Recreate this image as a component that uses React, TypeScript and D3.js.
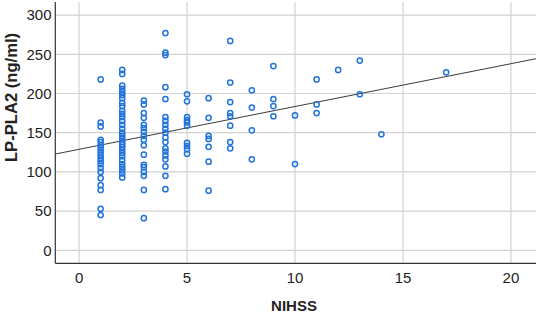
import React from "react";
import * as d3 from "d3";

const W = 536;
const H = 312;

// NIHSS score per column and LP-PLA2 values (ng/ml)
const nihss1 = [218, 163, 158, 141, 138, 134, 130, 126, 122, 118, 114, 110, 105, 100, 92, 83, 77, 53, 45];
const nihss2 = [230, 225, 210, 206, 202, 198, 194, 188, 184, 178, 174, 170, 165, 160, 155, 150, 146, 142, 138, 135, 132, 128, 124, 120, 115, 110, 106, 102, 98, 93];
const nihss3 = [191, 186, 175, 169, 160, 156, 151, 146, 141, 134, 122, 109, 106, 100, 95, 77, 41];
const nihss4 = [277, 252, 249, 208, 193, 170, 165, 160, 155, 150, 144, 138, 130, 126, 121, 116, 107, 95, 78];
const nihss5 = [199, 190, 170, 166, 163, 159, 137, 133, 129, 123];
const nihss6 = [194, 169, 146, 142, 132, 113, 76];
const nihss7 = [267, 214, 189, 175, 171, 159, 138, 130];
const nihss8 = [204, 182, 153, 116];
const nihss9 = [235, 193, 184, 171];
const nihss10 = [172, 110];
const nihss11 = [218, 186, 175];
const nihss12 = [230];
const nihss13 = [242, 199];
const nihss14 = [148];
const nihss17 = [227];

const groups: [number, number[]][] = [
  [1, nihss1], [2, nihss2], [3, nihss3], [4, nihss4], [5, nihss5], [6, nihss6],
  [7, nihss7], [8, nihss8], [9, nihss9], [10, nihss10], [11, nihss11], [12, nihss12],
  [13, nihss13], [14, nihss14], [17, nihss17],
];

const xTicks = [0, 5, 10, 15, 20];
const yTicks = [0, 50, 100, 150, 200, 250, 300];

// fitted line
const fitIntercept = 128.8;
const fitSlope = 5.46;

const xDomain: [number, number] = [-1.1, 21.16];
const yDomain: [number, number] = [-16.6, 316.7];

export default function App() {
  const left = 55.3, right = 536, top = 2, bottom = 263.3;
  const x = d3.scaleLinear().domain(xDomain).range([left, right]);
  const y = d3.scaleLinear().domain(yDomain).range([bottom, top]);

  const points = groups.flatMap(([n, vals]) => vals.map((v) => ({ n, v })));
  const line = d3.line<number>().x((d) => x(d)).y((d) => y(fitIntercept + fitSlope * d));

  const font = "Arial, 'Liberation Sans', sans-serif";
  const blue = "#2274dc";

  return (
    <svg width={W} height={H} style={{ position: "absolute", left: 0, top: 0, background: "#fff" }}>
      <rect x={0} y={0} width={W} height={H} fill="#fff" />
      {yTicks.map((t) => (
        <line key={"gy" + t} x1={left} x2={right} y1={y(t)} y2={y(t)} stroke="#d2d2d2" strokeWidth={1.2} />
      ))}
      {xTicks.map((t) => (
        <line key={"gx" + t} x1={x(t)} x2={x(t)} y1={top} y2={bottom} stroke="#d2d2d2" strokeWidth={1.2} />
      ))}
      <path d={line(xDomain as number[]) || ""} fill="none" stroke="#3a3a3a" strokeWidth={1} />
      {points.map((p, i) => (
        <circle key={i} cx={x(p.n)} cy={y(p.v)} r={2.6} fill="none" stroke={blue} strokeWidth={1.5} />
      ))}
      <line x1={left} x2={left} y1={top} y2={bottom} stroke="#333" strokeWidth={1.2} />
      <line x1={left} x2={right} y1={bottom} y2={bottom} stroke="#333" strokeWidth={1.2} />
      {yTicks.map((t) => (
        <text key={"ty" + t} x={51.5} y={y(t)} dy="0.36em" textAnchor="end" fontFamily={font} fontSize={15} fill="#222">
          {t}
        </text>
      ))}
      {xTicks.map((t) => (
        <text key={"tx" + t} x={x(t)} y={282.7} textAnchor="middle" fontFamily={font} fontSize={15} fill="#222">
          {t}
        </text>
      ))}
      <text x={294} y={310.5} textAnchor="middle" fontFamily={font} fontSize={15} fontWeight="bold" fill="#222">
        NIHSS
      </text>
      <text
        transform={`translate(16.5,97.5) rotate(-90)`}
        textAnchor="middle"
        fontFamily={font}
        fontSize={16.6}
        fontWeight="bold"
        fill="#222"
      >
        LP-PLA2 (ng/ml)
      </text>
    </svg>
  );
}
